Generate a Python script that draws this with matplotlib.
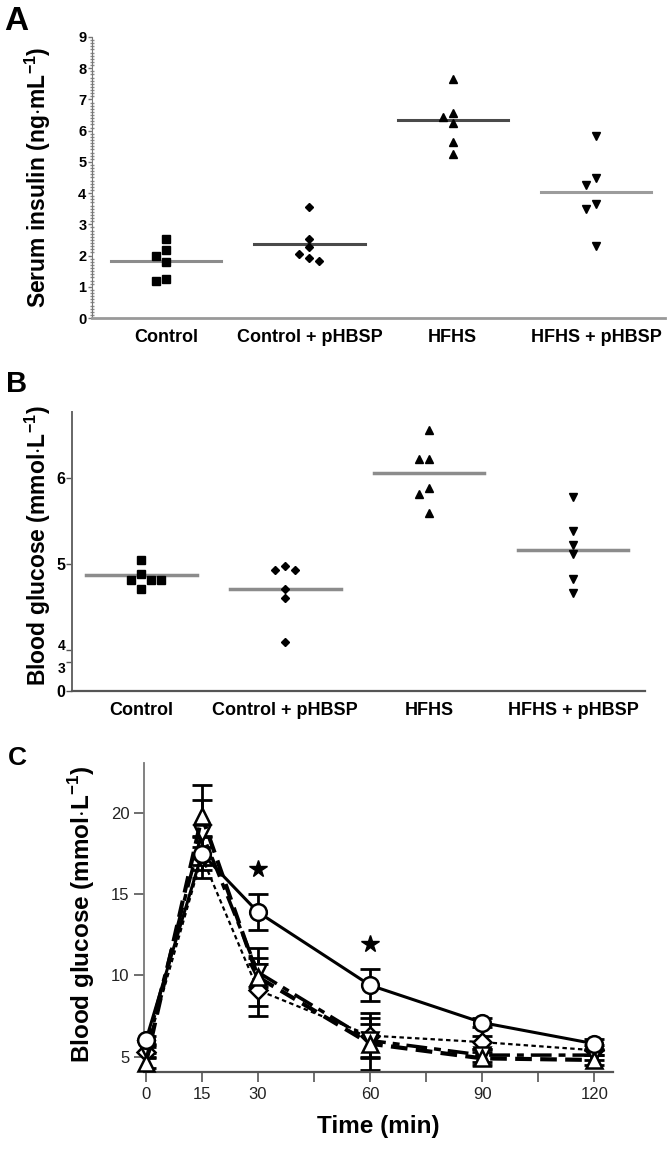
import numpy as np
import matplotlib
matplotlib.use('Agg')
import matplotlib.pyplot as plt
from matplotlib.ticker import MultipleLocator, FixedLocator

plt.rcParams['font.family'] = ['Liberation Sans', 'DejaVu Sans']
plt.rcParams['mathtext.fontset'] = 'custom'
plt.rcParams['mathtext.rm'] = 'Liberation Sans'
plt.rcParams['mathtext.bf'] = 'Liberation Sans:bold'

# --- data ---
groups = ['Control', 'Control + pHBSP', 'HFHS', 'HFHS + pHBSP']
markers = ['s', 'D', '^', 'v']

insulin = [[2.53, 2.19, 1.97, 1.79, 1.25, 1.17],
           [3.55, 2.53, 2.26, 2.05, 1.92, 1.84],
           [7.64, 6.56, 6.43, 6.23, 5.63, 5.25],
           [5.84, 4.50, 4.27, 3.65, 3.50, 2.32]]
insulin_mean = [1.84, 2.36, 6.33, 4.02]

glucose = [[5.05, 4.88, 4.82, 4.82, 4.82, 4.71],
           [4.98, 4.93, 4.93, 4.71, 4.60, 4.09],
           [6.56, 6.22, 6.22, 5.89, 5.82, 5.60],
           [5.78, 5.38, 5.22, 5.12, 4.83, 4.66]]
glucose_mean = [4.87, 4.71, 6.06, 5.16]

time = [0, 15, 30, 60, 90, 120]
gtt_circle = [6.0, 17.5, 13.9, 9.4, 7.1, 5.8]
gtt_circle_err = [0.3, 1.0, 1.1, 1.0, 0.3, 0.3]
gtt_diamond = [5.3, 17.3, 9.1, 6.3, 5.9, 5.4]
gtt_diamond_err = [0.3, 1.3, 1.6, 1.4, 0.4, 0.3]
gtt_up = [4.6, 19.8, 9.9, 5.8, 4.9, 4.8]
gtt_up_err = [0.3, 1.9, 1.8, 1.6, 0.4, 0.3]
gtt_down = [5.5, 18.8, 10.2, 6.0, 5.1, 5.1]
gtt_down_err = [0.3, 2.0, 0.9, 1.0, 0.4, 0.3]
signif_times = [30, 60]


def swarm(ax, x0, vals, step=0.07, min_px=8):
    placed, xs = [], []
    for v in vals:
        for k in [0, -1, 1, 2, -2, 3, -3]:
            x = x0 + k * step
            p = ax.transData.transform((x, v))
            if all(np.hypot(*(p - q)) >= min_px for q in placed):
                break
        placed.append(p)
        xs.append(x)
    return xs


W, H = 670, 1158
fig = plt.figure(figsize=(W / 100, H / 100), dpi=100)


def box(l, t, r, b):
    return [l / W, 1 - b / H, (r - l) / W, (b - t) / H]


# ---------------- A ----------------
ax1 = fig.add_axes(box(92, 37, 665, 318))
ax1.set_xlim(-0.516, 3.48)
ax1.set_ylim(0, 9)
line_cols = ['#8c8c8c', '#4a4a4a', '#4a4a4a', '#9c9c9c']
for i, vals in enumerate(insulin):
    ax1.plot([i - 0.385, i + 0.385], [insulin_mean[i]] * 2, color=line_cols[i], lw=2.2, zorder=2)
    xs = swarm(ax1, i, vals)
    ax1.plot(xs, vals, linestyle='none', marker=markers[i], color='black',
             ms=5.5 if markers[i] != 'D' else 4.5, zorder=3)
for s in ['top', 'right']:
    ax1.spines[s].set_visible(False)
ax1.spines['left'].set_color('#777777')
ax1.spines['bottom'].set_color('#999999')
ax1.spines['bottom'].set_linewidth(2)
ax1.yaxis.set_major_locator(MultipleLocator(1))
ax1.yaxis.set_minor_locator(MultipleLocator(0.1))
ax1.tick_params(axis='y', which='major', length=3, width=1, color='#777777', labelsize=10.5, pad=1)
ax1.tick_params(axis='y', which='minor', length=2.5, width=1, color='#888888', direction='inout')
for t in ax1.get_yticklabels():
    t.set_fontweight('bold')
ax1.set_xticks(range(4))
ax1.set_xticklabels(groups, fontsize=13, fontweight='bold')
ax1.tick_params(axis='x', length=0, pad=8)
ax1.set_ylabel(r'Serum insulin (ng$\cdot$mL$^{\mathbf{-1}}$)', fontsize=16.5, fontweight='bold', va='center')
ax1.yaxis.set_label_coords(-0.094, 0.5)

# ---------------- B ----------------
ax2 = fig.add_axes(box(72, 412, 645, 691))
fwd_x = [0, 3, 4, 7]
fwd_y = [0, 29, 41, 299]
ax2.set_yscale('function', functions=(lambda v: np.interp(v, fwd_x, fwd_y),
                                      lambda v: np.interp(v, fwd_y, fwd_x)))
ax2.set_xlim(-0.48, 3.5)
ax2.set_ylim(0, 6.77)
for i, vals in enumerate(glucose):
    ax2.plot([i - 0.385, i + 0.385], [glucose_mean[i]] * 2, color='#8c8c8c', lw=2.5, zorder=2)
    xs = swarm(ax2, i, vals)
    ax2.plot(xs, vals, linestyle='none', marker=markers[i], color='black',
             ms=5.5 if markers[i] != 'D' else 4.5, zorder=3)
for s in ['top', 'right']:
    ax2.spines[s].set_visible(False)
ax2.spines['left'].set_color('#666666')
ax2.spines['bottom'].set_color('#555555')
ax2.spines['left'].set_linewidth(1.4)
ax2.spines['bottom'].set_linewidth(1.6)
ax2.yaxis.set_major_locator(FixedLocator([0, 3, 4, 5, 6]))
ax2.yaxis.set_minor_locator(FixedLocator([]))
ax2.tick_params(axis='y', length=4, width=1, color='#555555', labelsize=11.5, pad=1)
for t in ax2.get_yticklabels():
    t.set_fontweight('bold')
    if t.get_text() in ('3', '4'):
        t.set_fontsize(10)
    if t.get_text() == '3':
        t.set_verticalalignment('top')
    if t.get_text() == '4':
        t.set_verticalalignment('baseline')
ax2.set_xticks(range(4))
ax2.set_xticklabels(groups, fontsize=13, fontweight='bold')
ax2.tick_params(axis='x', length=0, pad=8)
ax2.set_ylabel(r'Blood glucose (mmol$\cdot$L$^{\mathbf{-1}}$)', fontsize=16.5, fontweight='bold', va='center')
ax2.yaxis.set_label_coords(-0.059, 0.52)

# ---------------- C ----------------
ax3 = fig.add_axes(box(144, 763, 613, 1072))
ax3.set_xlim(-0.5, 125)
ax3.set_ylim(4.06, 23.08)
series = [
    (gtt_diamond, gtt_diamond_err, 'D', 9, (0, (2, 1.5)), 1.6),
    (gtt_down, gtt_down_err, 'v', 12, (0, (6, 2, 2, 2)), 2.5),
    (gtt_up, gtt_up_err, '^', 12, (0, (4, 2)), 3.0),
    (gtt_circle, gtt_circle_err, 'o', 12, '-', 2.2),
]
for vals, err, mk, ms, ls, lw in series:
    ax3.errorbar(time, vals, yerr=err, fmt='none', ecolor='black', elinewidth=2,
                 capsize=7, capthick=2, zorder=2)
    ax3.plot(time, vals, color='black', linestyle=ls, lw=lw, marker=mk, ms=ms,
             mfc='white', mec='black', mew=1.8, zorder=3, clip_on=False)
for t in signif_times:
    k = time.index(t)
    ax3.plot(t, gtt_circle[k] + gtt_circle_err[k] + 1.55, marker='*', color='black',
             ms=13, linestyle='none', zorder=4)
for s in ['top', 'right']:
    ax3.spines[s].set_visible(False)
ax3.spines['left'].set_color('#777777')
ax3.spines['bottom'].set_color('#555555')
ax3.spines['left'].set_linewidth(1.3)
ax3.spines['bottom'].set_linewidth(1.6)
ax3.set_yticks([5, 10, 15, 20])
ax3.set_xticks([0, 15, 30, 45, 60, 75, 90, 105, 120])
ax3.set_xticklabels(['0', '15', '30', '', '60', '', '90', '', '120'])
ax3.tick_params(axis='both', length=7, width=1.2, color='#555555', labelsize=12, labelcolor='#222222')
ax3.set_ylabel(r'Blood glucose (mmol$\cdot$L$^{\mathbf{-1}}$)', fontsize=17.5, fontweight='bold', va='center')
ax3.yaxis.set_label_coords(-0.134, 0.51)
ax3.set_xlabel('Time (min)', fontsize=17.5, fontweight='bold', labelpad=10)

# panel letters
fig.text(4 / W, 1 - 6 / H, 'A', fontsize=24, fontweight='bold', va='top', ha='left')
fig.text(6 / W, 1 - 370 / H, 'B', fontsize=21, fontweight='bold', va='top', ha='left')
fig.text(8 / W, 1 - 746 / H, 'C', fontsize=19, fontweight='bold', va='top', ha='left')

fig.savefig('out.png', dpi=100)
